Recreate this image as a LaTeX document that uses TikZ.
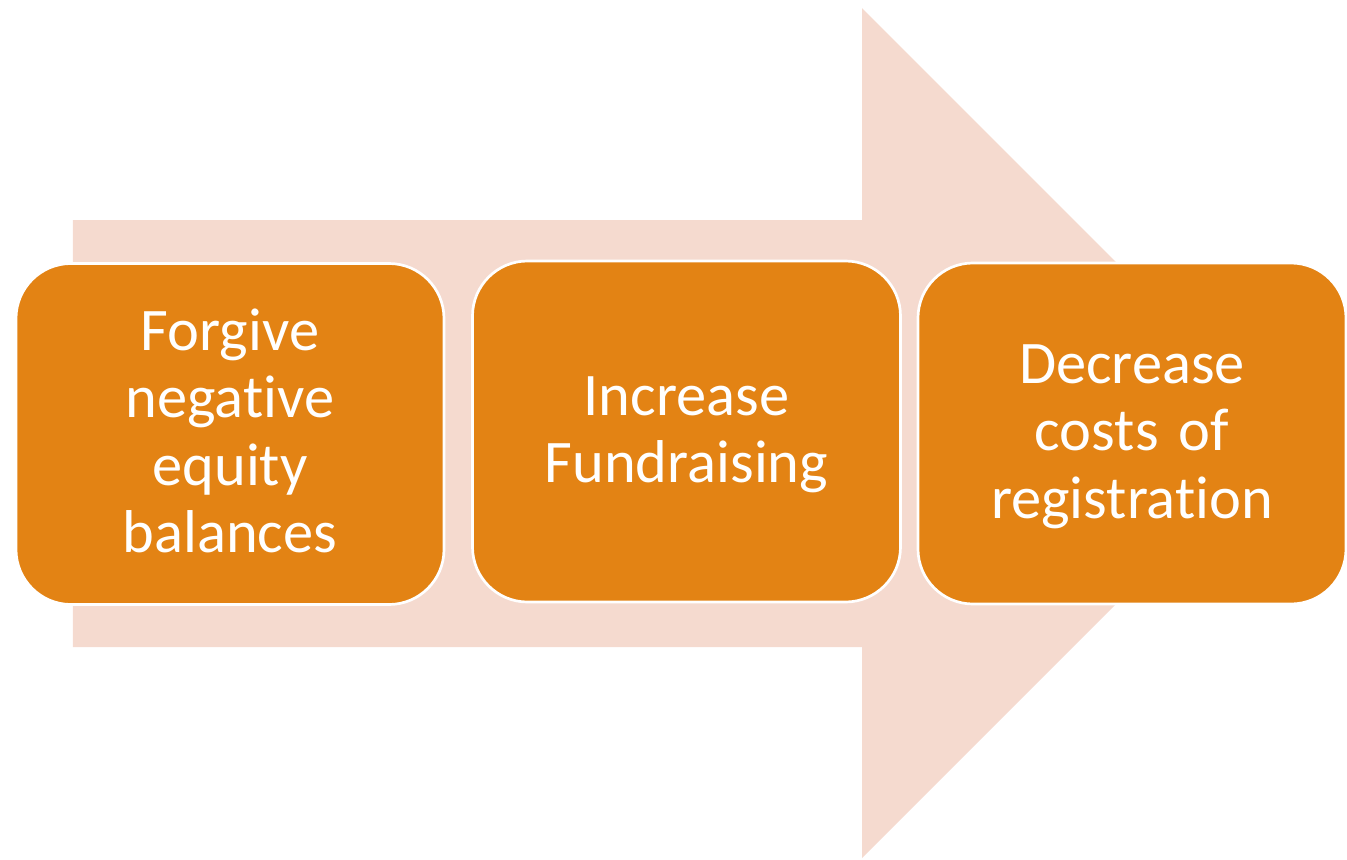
\documentclass[tikz,border=0pt]{standalone}
\usepackage{fontspec}
\setmainfont{Carlito}[Ligatures=NoCommon]
\definecolor{stepfill}{RGB}{227,131,20}
\definecolor{arrowfill}{RGB}{245,218,207}
\newcommand{\toprule}{\rule{0pt}{15.7pt}} % a bit taller than \strut, pushes text down
\tikzset{ % one style for the three rounded steps
	stepbox/.style={
		draw=white, line width=0.027cm, % thin white rim
		fill=stepfill,
		rounded corners=0.55cm,
		minimum width=4.28cm, minimum height=3.41cm,
		text width=3.9cm, align=center, text=white,
		font=\fontsize{17.2pt}{19.2pt}\selectfont
	}
}
\begin{document}
\begin{tikzpicture}
	\useasboundingbox (0,0) rectangle (13.47,8.59);
	% Big arrow behind the steps
	\fill [arrowfill] (0.73,2.12) -- (8.62,2.12) -- (8.62,0.01) -- (12.87,4.26)
		-- (8.62,8.51) -- (8.62,6.39) -- (0.73,6.39) -- cycle;
	% Steps
	\node (forgive) [stepbox] at (2.30,4.25) {\toprule Forgive\\negative\\equity\\balances\strut};
	\node (fundraise) [stepbox] at (6.865,4.275) {\toprule Increase\\Fundraising\strut};
	\node (decrease) [stepbox] at (11.32,4.255) {\toprule Decrease\\costs of\\registration\strut};
\end{tikzpicture}
\end{document}
